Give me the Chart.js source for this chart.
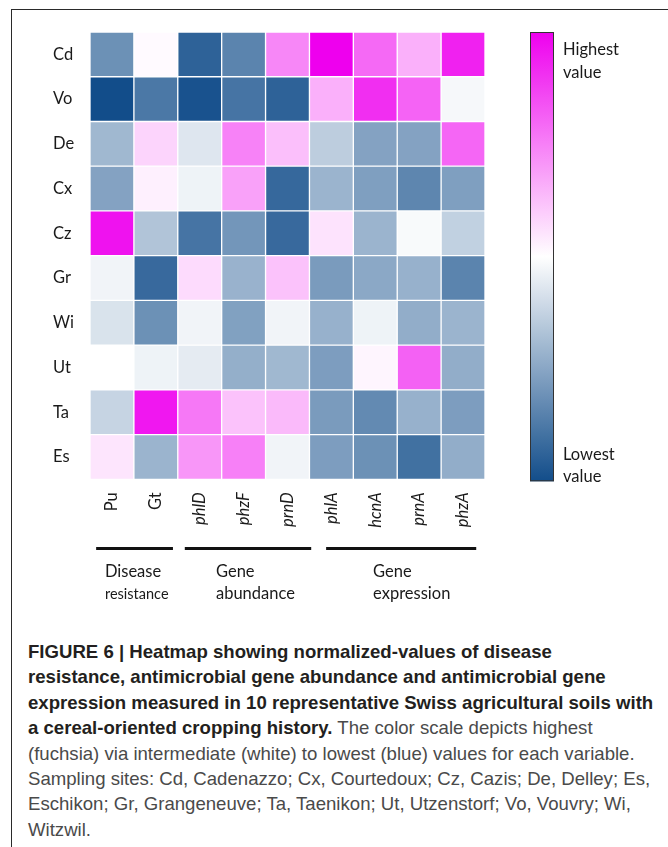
<!DOCTYPE html>
<html>
<head>
<meta charset="utf-8">
<title>Figure 6 heatmap</title>
<script src="https://cdn.jsdelivr.net/npm/chart.js@4.4.1/dist/chart.umd.min.js"></script>
<style>
    html, body { margin: 0; padding: 0; background: #fff; }
    #page { position: relative; width: 668px; height: 847px; overflow: hidden; }
    #frame {
        position: absolute; left: 11px; top: 9px; width: 700px; height: 900px;
        border-left: 1px solid #2a2a2a; border-top: 1px solid #2a2a2a;
    }
    #heatmap { position: absolute; left: 0; top: 0; }
    #caption {
        position: absolute; left: 28px; top: 639px;
        font-family: "Liberation Sans", Arial, sans-serif;
        font-size: 18.6px; line-height: 25.4px;
        color: #4a4a4a; white-space: nowrap;
    }
    #caption b { color: #231f20; }
</style>
</head>
<body>
<div id="page">
    <div id="frame"></div>
    <canvas id="heatmap" width="668" height="620"></canvas>
    <div id="caption">
        <div><b>FIGURE 6 | Heatmap showing normalized-values of disease</b></div>
        <div><b>resistance, antimicrobial gene abundance and antimicrobial gene</b></div>
        <div><b>expression measured in 10 representative Swiss agricultural soils with</b></div>
        <div><b>a cereal-oriented cropping history.</b> The color scale depicts highest</div>
        <div>(fuchsia) via intermediate (white) to lowest (blue) values for each variable.</div>
        <div>Sampling sites: Cd, Cadenazzo; Cx, Courtedoux; Cz, Cazis; De, Delley; Es,</div>
        <div>Eschikon; Gr, Grangeneuve; Ta, Taenikon; Ut, Utzenstorf; Vo, Vouvry; Wi,</div>
        <div>Witzwil.</div>
    </div>
</div>
<script>
// =============================================================================
// Data (normalized: 0 = lowest, 0.5 = intermediate, 1 = highest)
// =============================================================================

const sites = ['Cd', 'Vo', 'De', 'Cx', 'Cz', 'Gr', 'Wi', 'Ut', 'Ta', 'Es'];
const variables = ['Pu', 'Gt', 'phlD', 'phzF', 'prnD', 'phlA', 'hcnA', 'prnA', 'phzA'];
const italicVariables = ['phlD', 'phzF', 'prnD', 'phlA', 'hcnA', 'prnA', 'phzA'];
const groupNames = [['Disease', 'resistance'], ['Gene', 'abundance'], ['Gene', 'expression']];
const legendLabels = [['Highest', 'value'], ['Lowest', 'value']];

//            Pu     Gt     phlD   phzF   prnD   phlA   hcnA   prnA   phzA
const Cd = [0.19,  0.51,  0.06,  0.155, 0.735, 1.0,   0.795, 0.655, 0.935];
const Vo = [0.0,   0.12,  0.015, 0.11,  0.06,  0.655, 0.91,  0.805, 0.48];
const De = [0.30,  0.585, 0.43,  0.745, 0.625, 0.36,  0.24,  0.24,  0.80];
const Cx = [0.24,  0.53,  0.465, 0.685, 0.075, 0.29,  0.23,  0.16,  0.23];
const Cz = [0.965, 0.335, 0.11,  0.205, 0.08,  0.555, 0.29,  0.485, 0.37];
const Gr = [0.47,  0.08,  0.57,  0.285, 0.62,  0.22,  0.255, 0.28,  0.155];
const Wi = [0.42,  0.19,  0.47,  0.235, 0.47,  0.28,  0.465, 0.27,  0.29];
const Ut = [0.50,  0.465, 0.445, 0.275, 0.30,  0.225, 0.52,  0.81,  0.27];
const Ta = [0.38,  0.955, 0.765, 0.62,  0.635, 0.22,  0.17,  0.28,  0.225];
const Es = [0.55,  0.29,  0.705, 0.75,  0.47,  0.225, 0.19,  0.10,  0.27];
const siteValues = [Cd, Vo, De, Cx, Cz, Gr, Wi, Ut, Ta, Es];

// =============================================================================
// Styling / layout
// =============================================================================

const LOW = [18, 77, 138];
const MID = [255, 255, 255];
const HIGH = [238, 0, 238];
const FONT = 'Lato, "Open Sans", sans-serif';
const TEXT = '#1a1a1a';

// group underline extents in column units, label x in column units
const GROUP_LAYOUT = [
    { from: 0.14, to: 1.89, labelX: 0.34, subSize: 14.5 },
    { from: 2.16, to: 5.04, labelX: 2.87, subSize: 16.5 },
    { from: 5.38, to: 8.80, labelX: 6.45, subSize: 16.5 }
];

function scaleColor(v) {
    const a = v < 0.5 ? LOW : MID;
    const b = v < 0.5 ? MID : HIGH;
    const t = v < 0.5 ? v / 0.5 : (v - 0.5) / 0.5;
    const c = a.map((x, i) => Math.round(x + (b[i] - x) * t));
    return `rgb(${c[0]}, ${c[1]}, ${c[2]})`;
}

// =============================================================================
// Extra drawing: group lines, colour bar, labels
// =============================================================================

const decorations = {
    id: 'decorations',
    afterDraw(chart) {
        const ctx = chart.ctx;
        const area = chart.chartArea;
        const xs = chart.scales.x;
        const colW = xs.width / variables.length;
        ctx.save();

        // group underlines + names
        GROUP_LAYOUT.forEach((g, i) => {
            ctx.strokeStyle = '#111';
            ctx.lineWidth = 3;
            ctx.beginPath();
            ctx.moveTo(xs.left + g.from * colW, 548.5);
            ctx.lineTo(xs.left + g.to * colW, 548.5);
            ctx.stroke();

            ctx.fillStyle = TEXT;
            ctx.textAlign = 'left';
            ctx.textBaseline = 'alphabetic';
            const lx = xs.left + g.labelX * colW;
            ctx.font = `16.5px ${FONT}`;
            ctx.fillText(groupNames[i][0], lx, 577);
            ctx.font = `${g.subSize}px ${FONT}`;
            ctx.fillText(groupNames[i][1], lx, 599);
        });

        // colour bar
        const barX = 530, barW = 24;
        const top = area.top, bottom = area.bottom + 2;
        const grad = ctx.createLinearGradient(0, top, 0, bottom);
        for (let k = 0; k <= 20; k++) {
            grad.addColorStop(k / 20, scaleColor(1 - k / 20));
        }
        ctx.fillStyle = grad;
        ctx.fillRect(barX, top, barW, bottom - top);
        ctx.strokeStyle = '#333';
        ctx.lineWidth = 1;
        ctx.strokeRect(barX + 0.5, top + 0.5, barW - 1, bottom - top - 1);

        ctx.fillStyle = TEXT;
        ctx.font = `16.5px ${FONT}`;
        ctx.fillText(legendLabels[0][0], 563, 55);
        ctx.fillText(legendLabels[0][1], 563, 77.5);
        ctx.fillText(legendLabels[1][0], 563, 459.5);
        ctx.fillText(legendLabels[1][1], 563, 482);

        ctx.restore();
    }
};

// =============================================================================
// Chart
// =============================================================================

const datasets = sites.map((site, r) => ({
    label: site,
    data: variables.map(() => [sites.length - 1 - r, sites.length - r]),
    backgroundColor: siteValues[r].map(scaleColor),
    borderColor: 'rgba(255, 255, 255, 0.18)',
    borderWidth: 1,
    borderSkipped: false,
    grouped: false,
    barPercentage: 1,
    categoryPercentage: 1,
    yAxisID: 'y'
}));

new Chart(document.getElementById('heatmap').getContext('2d'), {
    type: 'bar',
    data: { labels: variables, datasets: datasets },
    options: {
        responsive: false,
        animation: false,
        devicePixelRatio: 1,
        layout: { padding: { left: 53, top: 32, right: 183, bottom: 0 } },
        plugins: {
            legend: { display: false },
            tooltip: { enabled: false }
        },
        scales: {
            x: {
                type: 'category',
                offset: true,
                grid: { display: false, drawTicks: false },
                border: { display: false },
                ticks: {
                    autoSkip: false,
                    minRotation: 90,
                    maxRotation: 90,
                    padding: 13,
                    color: TEXT,
                    font: (c) => ({
                        family: FONT,
                        size: 16.5,
                        style: italicVariables.includes(variables[c.index]) ? 'italic' : 'normal'
                    })
                },
                afterFit: (s) => { s.height = 140.7; }
            },
            y: {
                type: 'linear',
                min: 0,
                max: sites.length,
                display: false
            },
            siteAxis: {
                type: 'category',
                position: 'left',
                labels: sites,
                offset: true,
                grid: { display: false, drawTicks: false },
                border: { display: false },
                ticks: {
                    crossAlign: 'far',
                    color: TEXT,
                    font: { family: FONT, size: 16.5 }
                },
                afterFit: (s) => { s.width = 37; }
            }
        }
    },
    plugins: [decorations]
});
</script>
</body>
</html>
